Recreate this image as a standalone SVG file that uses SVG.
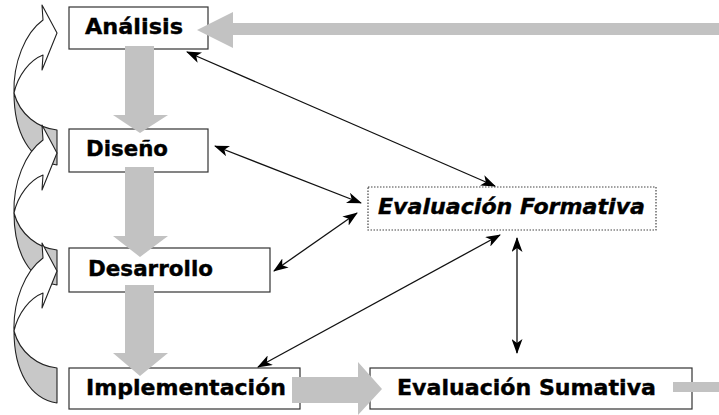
<svg xmlns="http://www.w3.org/2000/svg" xmlns:xlink="http://www.w3.org/1999/xlink" width="719" height="415" viewBox="0 0 719 415">
<style>
.box{fill:#fff;stroke:#333;stroke-width:1.2}
.dot{fill:#fff;stroke:#444;stroke-width:1.2;stroke-dasharray:1.5 1.5}
.t{font-family:"DejaVu Sans","Liberation Sans",Arial,sans-serif;font-weight:bold;font-size:22px;fill:#000;stroke:#000;stroke-width:0.4}
.it{font-style:italic}
.blk{fill:#c2c2c2}
.ln{stroke:#111;stroke-width:1.3;fill:none;marker-start:url(#ah);marker-end:url(#ah)}
.cf{fill:#fff;stroke:#222;stroke-width:1.1;stroke-linejoin:round}
.cb{fill:#c8c8c8;stroke:#222;stroke-width:1.1;stroke-linejoin:round}
</style>
<defs>
<marker id="ah" viewBox="0 0 15 11" refX="14" refY="5.5" markerWidth="15" markerHeight="11" markerUnits="userSpaceOnUse" orient="auto-start-reverse">
<path d="M0,0 L15,5.5 L0,11 L4,5.5 Z" fill="#000"/>
</marker>
<g id="curve">
<path class="cb" d="M14,60 C14,100 30,128 57,132 L57,97 C38,95 20,82 14,60 Z"/>
<path class="cf" d="M43,-13 L42,-28 L57,0 L42,37 L43,22 C30,27 18,42 14,60 C13,30 25,0 43,-13 Z"/>
</g>
</defs>

<g id="loops">
<use xlink:href="#curve" transform="translate(0,33)"/>
<use xlink:href="#curve" transform="translate(0,153)"/>
<use xlink:href="#curve" transform="translate(0,271)"/>
</g>

<g id="analisis">
<rect class="box" x="69" y="7" width="139" height="42"/>
<text class="t" x="85" y="34" textLength="98" lengthAdjust="spacingAndGlyphs">Análisis</text>
</g>
<g id="diseno">
<rect class="box" x="69" y="129" width="139" height="43"/>
<text class="t" x="86" y="156" textLength="82" lengthAdjust="spacingAndGlyphs">Diseño</text>
</g>
<g id="desarrollo">
<rect class="box" x="69" y="248" width="201" height="44"/>
<text class="t" x="88" y="276" textLength="125" lengthAdjust="spacingAndGlyphs">Desarrollo</text>
</g>
<g id="implementacion">
<rect class="box" x="69" y="368" width="231" height="41"/>
<text class="t" x="86" y="395" textLength="200" lengthAdjust="spacingAndGlyphs">Implementación</text>
</g>
<g id="sumativa">
<rect class="box" x="370" y="368" width="322" height="41"/>
<text class="t" x="397" y="395" textLength="259" lengthAdjust="spacingAndGlyphs">Evaluación Sumativa</text>
</g>
<g id="formativa">
<rect class="dot" x="368" y="187" width="288" height="43"/>
<text class="t it" x="378" y="214" textLength="267" lengthAdjust="spacingAndGlyphs">Evaluación Formativa</text>
</g>

<g id="connectors">
<polygon class="blk" points="719,23 233,23 233,12 197,30 233,48 233,35 719,35"/>
<polygon class="blk" points="125,46 154,46 154,115 168,115 140,133 113,115 125,115"/>
<polygon class="blk" points="125,167 154,167 154,236 168,236 140,257 113,236 125,236"/>
<polygon class="blk" points="125,285 154,285 154,353 168,353 140,376 113,353 125,353"/>
<polygon class="blk" points="292,377 358,377 358,362 382,389 358,415 358,403 292,403"/>
<rect class="blk" x="673" y="382" width="46" height="10"/>
<line class="ln" x1="187" y1="52" x2="495" y2="186"/>
<line class="ln" x1="215" y1="146" x2="361" y2="203"/>
<line class="ln" x1="274" y1="271" x2="357" y2="213"/>
<line class="ln" x1="258" y1="367" x2="500" y2="235"/>
<line class="ln" x1="517" y1="238" x2="517" y2="353"/>
</g>
</svg>
